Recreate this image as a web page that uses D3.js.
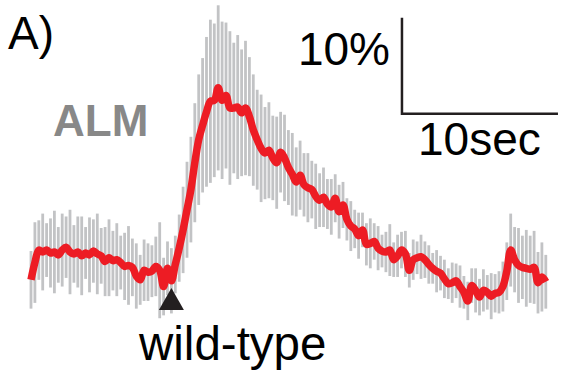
<!DOCTYPE html>
<html>
<head>
<meta charset="utf-8">
<script src="https://cdn.jsdelivr.net/npm/d3@7"></script>
<style>
  html, body { margin: 0; padding: 0; background: #fff; }
  svg { display: block; }
  text { font-family: "Liberation Sans", Arial, sans-serif; }
</style>
</head>
<body>
<svg id="chart" width="563" height="379"></svg>
<script>
// ---- data (ΔF/F in %, sampled every 0.25 s) ----
const sampleStep = 0.25;           // seconds
const meanTrace = [
  -2.9,-1.1,0.2,0.0,0.2,-0.1,0.0,-0.3,0.2,0.5,
  0.0,-0.2,0.0,-0.4,-0.1,-0.3,0.1,-0.2,-0.4,-1.0,
  -0.6,-0.9,-0.8,-1.1,-1.5,-1.4,-1.6,-2.5,-2.9,-1.9,
  -2.1,-2.0,-1.5,-1.9,-3.6,-1.7,-3.0,-1.3,0.4,2.3,
  4.4,6.5,9.3,11.7,13.2,14.6,15.7,15.8,17.1,15.8,
  16.3,15.0,15.0,15.1,14.5,15.0,14.1,12.7,11.7,10.8,
  10.3,10.6,9.8,9.3,10.4,9.8,8.8,8.1,7.3,8.0,
  7.0,6.7,6.5,5.8,5.4,5.7,5.0,4.7,5.6,4.2,
  4.9,3.4,2.7,2.4,1.7,2.3,0.8,0.9,1.1,0.4,
  0.1,0.0,0.2,-0.8,-0.4,0.2,-0.2,-1.9,-0.8,-0.6,
  -0.5,-0.8,-1.3,-1.7,-2.0,-2.2,-2.8,-3.3,-3.2,-3.0,
  -3.6,-4.2,-5.1,-3.5,-4.0,-4.7,-4.0,-4.2,-4.6,-4.3,
  -4.2,-3.6,-2.0,0.2,-0.8,-1.4,-1.6,-1.7,-1.8,-1.6,
  -3.2,-2.6,-3.1
];
const errTrace = [
  3.0,4.2,3.1,4.0,2.8,3.6,4.3,2.9,3.8,3.2,
  4.4,3.0,3.7,4.1,2.7,3.9,3.3,4.2,2.9,3.6,
  4.0,3.1,3.8,2.8,3.5,4.1,3.0,3.4,2.6,3.2,
  3.0,2.7,3.1,5.0,3.0,2.8,3.4,3.0,3.5,4.5,
  5.0,5.5,6.2,6.8,7.0,7.8,8.5,8.0,8.6,8.2,
  7.6,8.0,6.8,7.5,6.6,7.0,6.2,5.8,5.2,5.6,
  4.8,5.0,4.4,4.8,4.2,4.5,3.9,4.3,3.6,3.6,
  3.3,3.6,3.0,3.4,2.8,3.1,2.6,2.9,2.5,2.8,
  2.4,2.2,2.6,2.0,2.4,1.8,2.2,2.6,1.9,2.3,
  1.7,2.1,2.7,1.8,2.2,1.9,2.4,1.8,2.1,1.7,
  2.3,1.9,2.0,1.6,2.2,1.8,2.0,1.6,2.1,1.8,
  2.2,1.7,2.0,1.8,2.3,1.9,2.2,1.8,2.4,2.0,
  2.2,2.6,3.0,3.8,3.4,3.9,3.3,4.0,3.5,3.8,
  3.2,3.6,2.8
];
const stimulusTime = 9.0;          // s, "wild-type" onset marker
const scaleBarTime = 10;           // s
const scaleBarDff = 10;            // %
const panelLabel = "A)";
const regionLabel = "ALM";
const genotypeLabel = "wild-type";

// ---- scales ----
const svg = d3.select("#chart");
const x = d3.scaleLinear().domain([0, 33]).range([31, 545.8]);
const y = d3.scaleLinear().domain([-10, 20]).range([348, 60]);

const data = meanTrace.map((v, i) => ({ t: i * sampleStep, v, e: errTrace[i] }));

// gray spread bars
svg.append("g")
  .selectAll("line")
  .data(data)
  .join("line")
  .attr("x1", d => x(d.t)).attr("x2", d => x(d.t))
  .attr("y1", d => y(d.v + d.e)).attr("y2", d => y(d.v - d.e))
  .attr("stroke", "#c2c3c5")
  .attr("stroke-width", 2.8);

// red mean trace
svg.append("path")
  .datum(data)
  .attr("fill", "none")
  .attr("stroke", "#ed1c24")
  .attr("stroke-width", 7.5)
  .attr("stroke-linejoin", "round")
  .attr("stroke-linecap", "butt")
  .attr("d", d3.line().x(d => x(d.t)).y(d => y(d.v)).curve(d3.curveCatmullRom));

// stimulus triangle
const sx = x(stimulusTime);
const sy = 288;
svg.append("path")
  .attr("d", `M${sx},${sy} L${sx + 12.5},${sy + 22} L${sx - 12.5},${sy + 22} Z`)
  .attr("fill", "#231f20");

// scale bar
const barT0 = 23.78, barV0 = 14.4;
svg.append("path")
  .attr("d", `M${x(barT0)},${y(barV0 + scaleBarDff)} L${x(barT0)},${y(barV0)} L${x(barT0 + scaleBarTime)},${y(barV0)}`)
  .attr("fill", "none")
  .attr("stroke", "#231f20")
  .attr("stroke-width", 2.5);

// texts
svg.append("text").attr("x", 8).attr("y", 49).attr("font-size", 46)
  .attr("fill", "#000").text(panelLabel);
svg.append("text").attr("x", 53).attr("y", 136).attr("font-size", 44)
  .attr("font-weight", "bold").attr("fill", "#888888").text(regionLabel);
svg.append("text").attr("x", 390).attr("y", 65).attr("font-size", 46)
  .attr("text-anchor", "end").attr("fill", "#000").text(scaleBarDff + "%");
svg.append("text").attr("x", 418).attr("y", 155).attr("font-size", 46)
  .attr("fill", "#000").text(scaleBarTime + "sec");
svg.append("text").attr("x", 139).attr("y", 360).attr("font-size", 47.5)
  .attr("fill", "#000").text(genotypeLabel);
</script>
</body>
</html>
